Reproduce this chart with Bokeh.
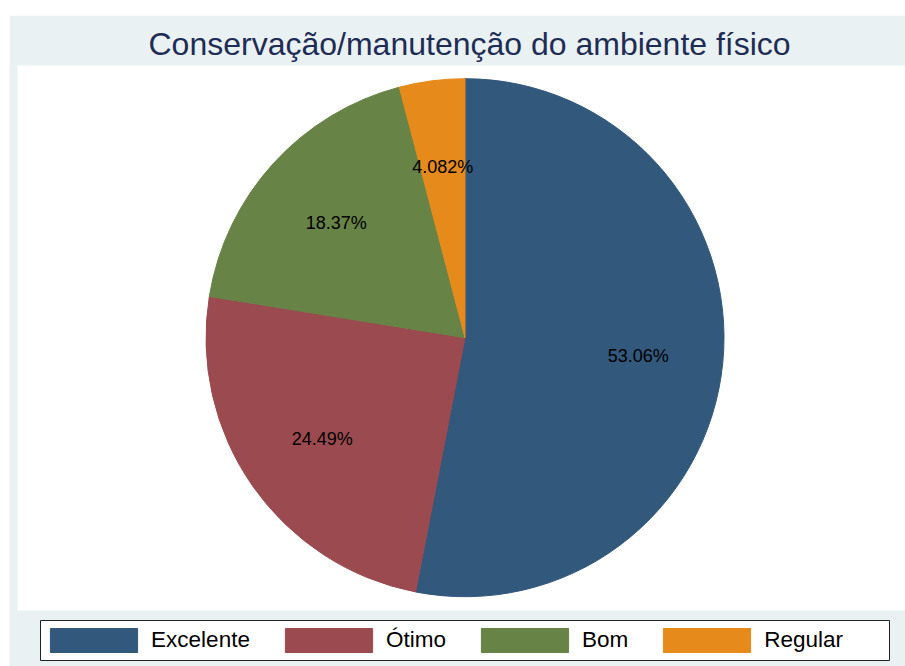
import math
from bokeh.plotting import figure
from bokeh.models import ColumnDataSource, Range1d, Legend, LegendItem
from bokeh.core.properties import value
from bokeh.embed import file_html
from bokeh.resources import INLINE

# ---- data ----
categories = ["Excelente", "Ótimo", "Bom", "Regular"]
percentages = [53.06, 24.49, 18.37, 4.082]
colors = ["#32587C", "#9B4A50", "#678345", "#E68A1C"]
title_text = "Conservação/manutenção do ambiente físico"

FONT = "Liberation Sans"
W = 896
FRAME_H = 601
CX, CY, R = 455.5, 328.8, 259
LABEL_R = 174

total = sum(percentages)
starts, ends, lx, ly, labels = [], [], [], [], []
cum = 0.0
for v in percentages:
    a0 = math.pi / 2 - cum / total * 2 * math.pi
    cum += v
    a1 = math.pi / 2 - cum / total * 2 * math.pi
    starts.append(a0)
    ends.append(a1)
    mid = (a0 + a1) / 2
    lx.append(CX + LABEL_R * math.cos(mid))
    ly.append(CY + LABEL_R * math.sin(mid))
    labels.append(f"{v:.4g}%")

src = ColumnDataSource(dict(cat=categories, start=starts, end=ends, color=colors,
                            x=[CX] * 4, y=[CY] * 4, lx=lx, ly=ly, lab=labels))

p = figure(frame_width=W, frame_height=FRAME_H, margin=(15, 0, 0, 9), output_backend="svg",
           toolbar_location=None, x_range=Range1d(0, W), y_range=Range1d(0, FRAME_H),
           min_border_left=0, min_border_right=0, min_border_bottom=0, min_border_top=50)
p.axis.visible = False
p.grid.visible = False
p.outline_line_color = None
bg = "#EAF1F3"
p.border_fill_color = bg
p.background_fill_color = bg

p.title.text = title_text
p.title.align = "left"
p.title.offset = 139
p.title.text_font = FONT
p.title.text_font_size = "32px"
p.title.text_font_style = "normal"
p.title.text_color = "#1E2D55"
p.title.standoff = 7

# white plot region
p.quad(left=[8], right=[910], bottom=[56], top=[FRAME_H], fill_color="white", line_color=None)
# legend frame
p.quad(left=[31], right=[880], bottom=[6], top=[46], fill_color="white",
       line_color="#222222", line_width=1)

wr = p.wedge(x="x", y="y", radius=R, radius_units="screen", start_angle="start",
             end_angle="end", direction="clock", fill_color="color", line_color="color",
             line_width=1, source=src)

p.text(x="lx", y="ly", text="lab", source=src, text_align="center", text_baseline="middle",
       text_font=value(FONT), text_font_size="18px", text_color="black", y_offset=2)

items = [LegendItem(label=c, renderers=[wr], index=i) for i, c in enumerate(categories)]
legend = Legend(items=items, orientation="horizontal", location=(30.1, 11),
                glyph_width=109, glyph_height=30, label_standoff=3, spacing=24,
                padding=0, margin=0, border_line_alpha=0, background_fill_alpha=0,
                label_text_font=FONT, label_text_font_size="22.5px", label_text_color="black")
p.add_layout(legend)

open("out.html", "w").write(file_html(p, INLINE))
